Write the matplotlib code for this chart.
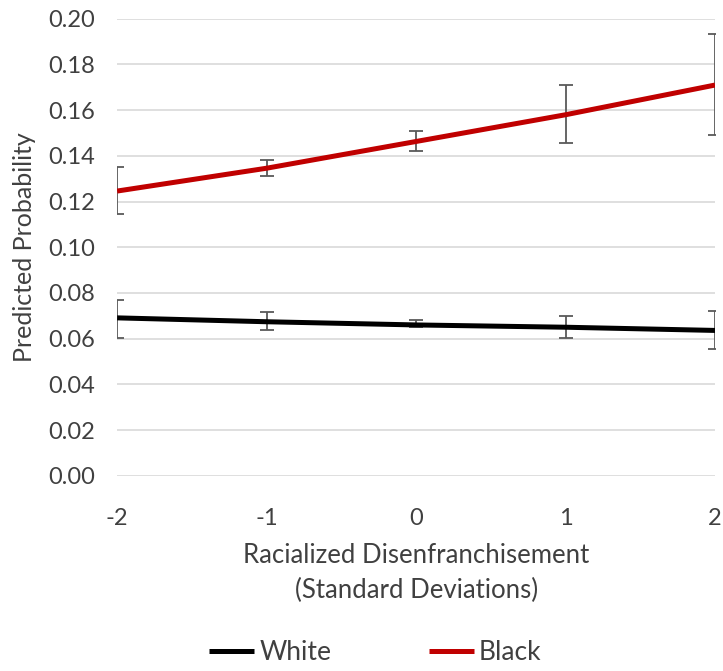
import numpy as np
import matplotlib.pyplot as plt

plt.rcParams['font.family'] = ['Lato', 'DejaVu Sans']

x = [-2, -1, 0, 1, 2]
white = [0.0691, 0.0674, 0.0660, 0.0650, 0.0636]
white_lo = [0.0604, 0.0636, 0.0650, 0.0602, 0.0555]
white_hi = [0.0768, 0.0716, 0.0680, 0.0700, 0.0720]
black = [0.1246, 0.1346, 0.1463, 0.1580, 0.1710]
black_lo = [0.1145, 0.1312, 0.1420, 0.1455, 0.1490]
black_hi = [0.1350, 0.1380, 0.1510, 0.1712, 0.1932]
xticks = ['-2', '-1', '0', '1', '2']
yticks = [0.00, 0.02, 0.04, 0.06, 0.08, 0.10, 0.12, 0.14, 0.16, 0.18, 0.20]

fig = plt.figure(figsize=(7.23, 6.71), dpi=100)
ax = fig.add_axes([0.162, 0.291, 0.827, 0.681])

txt = '#404040'
for vals, lo, hi, col, lab in [(white, white_lo, white_hi, 'black', 'White'),
                               (black, black_lo, black_hi, '#c00000', 'Black')]:
    v = np.array(vals)
    err = [v - np.array(lo), np.array(hi) - v]
    ax.errorbar(x, v, yerr=err, fmt='none', ecolor='#595959', elinewidth=1.3,
                capsize=5, capthick=1.3, zorder=2)
    ax.plot(x, v, color=col, lw=3.6, label=lab, zorder=3, solid_capstyle='butt')

ax.set_xlim(-2, 2)
ax.set_ylim(0, 0.2)
ax.set_yticks(yticks)
ax.set_yticklabels(['%.2f' % t for t in yticks])
ax.set_xticks(x)
ax.set_xticklabels(xticks)
ax.grid(axis='y', color='#d9d9d9', lw=1.2)
ax.set_axisbelow(True)
for s in ax.spines.values():
    s.set_visible(False)
ax.tick_params(length=0, labelsize=17, colors=txt)
ax.tick_params(axis='y', pad=16)
ax.tick_params(axis='x', pad=23)

ax.set_xlabel('Racialized Disenfranchisement\n(Standard Deviations)',
              fontsize=18.5, color=txt, labelpad=10, linespacing=1.5)
ax.set_ylabel('Predicted Probability', fontsize=18, color=txt, labelpad=8.5)

fig.legend(loc='center', bbox_to_anchor=(0.519, 1 - 653 / 671), ncol=2,
           frameon=False, fontsize=19, handlelength=1.7, handletextpad=0.2,
           columnspacing=3.7, labelcolor=txt)

fig.savefig('out.png', dpi=100)
